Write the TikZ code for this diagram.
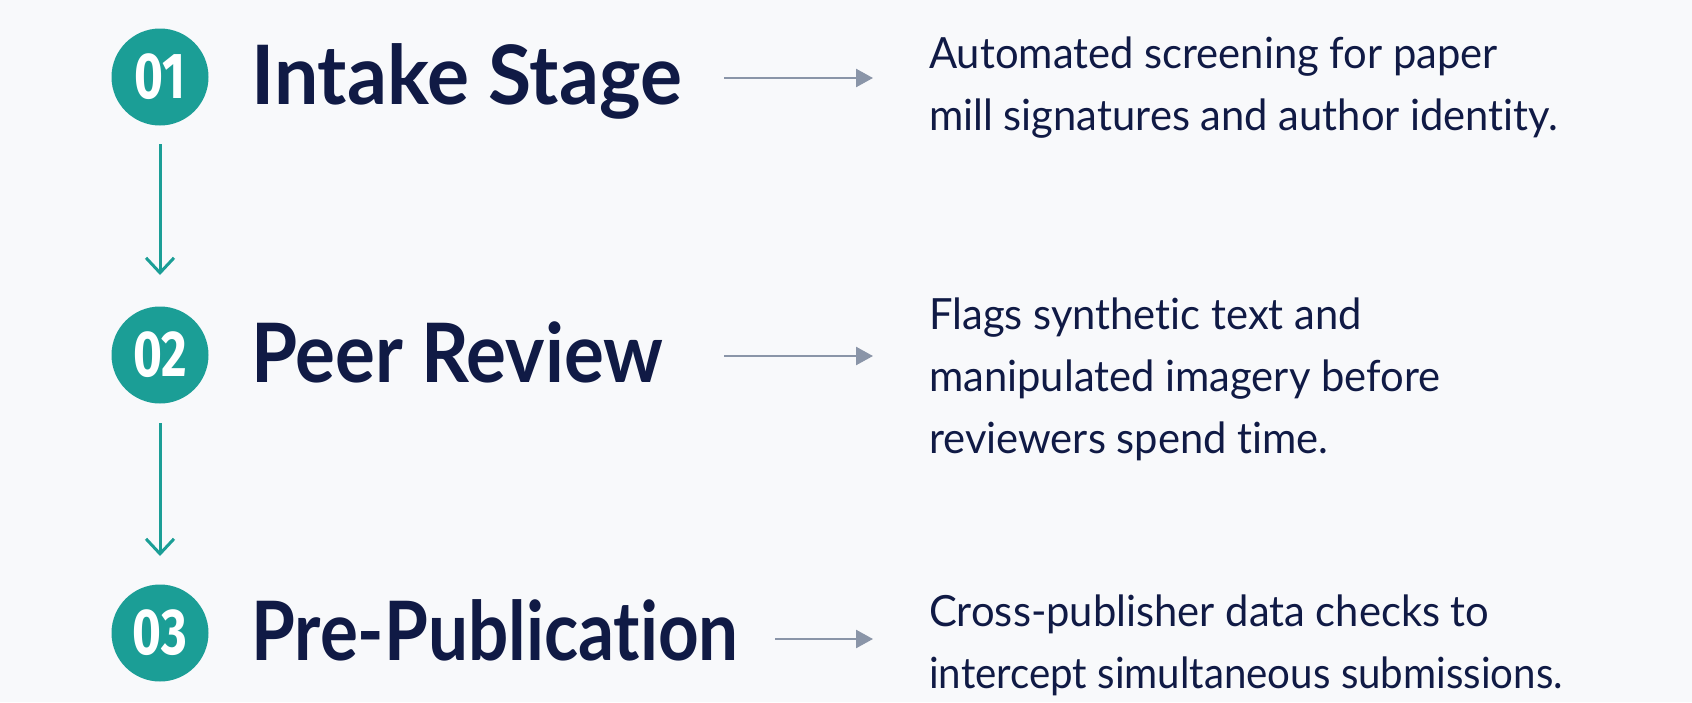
\documentclass[tikz,border=0pt]{standalone}
\usepackage{fontspec}
\setmainfont{Lato}[Ligatures=NoCommon]
\newfontfamily\numfont{Fira Sans}
\usetikzlibrary{arrows.meta}
\definecolor{bgc}{HTML}{F8F9FB}
\definecolor{tealc}{HTML}{1B9E96}
\definecolor{navy}{HTML}{101A45}
\definecolor{slate}{HTML}{8A95A8}
\begin{document}
\begin{tikzpicture}[x=1pt,y=-1pt,
  stepnum/.style={circle, fill=tealc, minimum size=97pt, inner sep=0pt, text=white,
    font=\numfont\bfseries\fontsize{65}{65}\selectfont},
  title/.style={anchor=base west, inner sep=0pt, text=navy,
    font=\bfseries\fontsize{82}{98}\selectfont},
  desc/.style={anchor=base west, inner sep=0pt, text=navy,
    font=\fontsize{43}{62}\selectfont},
  flow/.style={draw=tealc, line width=3pt,
    -{Straight Barb[length=15pt,width=28pt,line width=3pt]}},
  link/.style={draw=slate, line width=2.5pt, -{Triangle[length=17pt,width=18pt]}}]
\fill[bgc] (0,0) rectangle (1692,702);
\useasboundingbox (0,0) rectangle (1692,702);

% step circles
\node[stepnum] (c1) at (160,77)  {\scalebox{0.76}[1]{01}};
\node[stepnum] (c2) at (160,355) {\scalebox{0.76}[1]{02}};
\node[stepnum] (c3) at (160,633) {\scalebox{0.76}[1]{03}};

% titles
\node[title] (t1) at (251,104) {\scalebox{0.96}[1]{Intake Stage}};
\node[title] (t2) at (251,382) {\scalebox{0.91}[1]{Peer Review}};
\node[title] (t3) at (251,660) {\scalebox{0.865}[1]{Pre-Publication}};

% descriptions
\node[desc] (d1) at (929,68) {\scalebox{0.97}[1]{\begin{tabular}[t]{@{}l@{}}Automated screening for paper\\mill signatures and author identity.\end{tabular}}};
\node[desc] (d2) at (929,329) {\scalebox{0.97}[1]{\begin{tabular}[t]{@{}l@{}}Flags synthetic text and\\manipulated imagery before\\reviewers spend time.\end{tabular}}};
\node[desc] (d3) at (929,626) {\scalebox{0.97}[1]{\begin{tabular}[t]{@{}l@{}}Cross-publisher data checks to\\\scalebox{0.965}[1]{intercept simultaneous submissions.}\end{tabular}}};

% vertical flow arrows
\coordinate (f1s) at (160,144); \coordinate (f1e) at (160,275);
\coordinate (f2s) at (160,423); \coordinate (f2e) at (160,556);
\draw[flow] (f1s) -- (f1e);
\draw[flow] (f2s) -- (f2e);

% horizontal links
\coordinate (a1s) at (724,78);  \coordinate (a1e) at (873,78);
\coordinate (a2s) at (724,356); \coordinate (a2e) at (873,356);
\coordinate (a3s) at (775,639); \coordinate (a3e) at (873,639);
\draw[link] (a1s) -- (a1e);
\draw[link] (a2s) -- (a2e);
\draw[link] (a3s) -- (a3e);
\end{tikzpicture}
\end{document}
